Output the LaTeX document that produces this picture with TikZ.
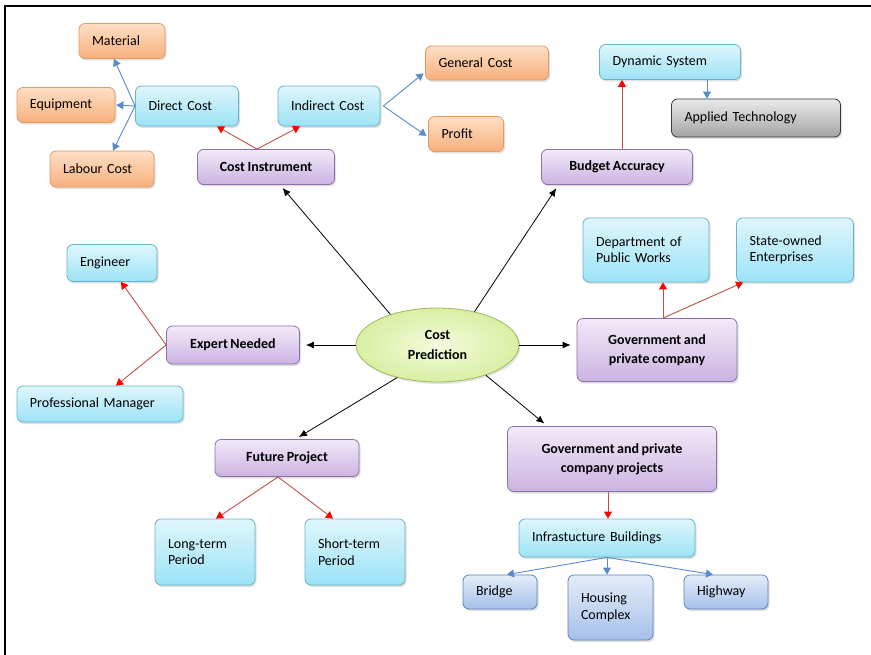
\documentclass[tikz,border=0pt]{standalone}
\usepackage{fontspec}
\setmainfont{Carlito}[WordSpace=0.8]
\usepackage{tikz}
\usetikzlibrary{arrows.meta,shadows,shapes.geometric}
\definecolor{orTop}{HTML}{FDDFC6}
\definecolor{orBot}{HTML}{F8B07C}
\definecolor{orLine}{HTML}{E39A5E}
\definecolor{cyTop}{HTML}{DFF6FC}
\definecolor{cyBot}{HTML}{9CE3F6}
\definecolor{cyLine}{HTML}{6AB3C8}
\definecolor{puTop}{HTML}{F2EAF8}
\definecolor{puBot}{HTML}{CBB3E2}
\definecolor{puLine}{HTML}{8C70A8}
\definecolor{grTop}{HTML}{EAEAEA}
\definecolor{grBot}{HTML}{A4A4A4}
\definecolor{grLine}{HTML}{3A3A3A}
\definecolor{blTop}{HTML}{E4EDF9}
\definecolor{blBot}{HTML}{A6C0EB}
\definecolor{blLine}{HTML}{5E82B8}
\definecolor{elIn}{HTML}{F4FBDC}
\definecolor{elOut}{HTML}{D9EFA4}
\definecolor{elLine}{HTML}{9BBB59}
\definecolor{redLine}{HTML}{C0504D}
\definecolor{blueLine}{HTML}{5A8BCB}
\begin{document}
\begin{tikzpicture}[x=1pt,y=-1pt,
		every node/.style={font=\fontsize{14}{16.5}\selectfont},
		box/.style={rectangle,rounded corners=6pt,draw,line width=0.8pt,inner xsep=13pt,inner ysep=3pt,
			align=left,drop shadow={shadow xshift=1.5pt,shadow yshift=-2pt,opacity=0.25}},
		orbox/.style={box,draw=orLine,top color=orTop,bottom color=orBot},
		cybox/.style={box,draw=cyLine,top color=cyTop,bottom color=cyBot},
		pubox/.style={box,draw=puLine,top color=puTop,bottom color=puBot,align=center,font=\fontsize{14}{19}\selectfont\bfseries},
		grbox/.style={box,draw=grLine,top color=grTop,bottom color=grBot},
		blbox/.style={box,draw=blLine,top color=blTop,bottom color=blBot},
		blk/.style={-{Latex[length=8pt,width=7pt]},line width=0.8pt,shorten >=4pt},
		redarr/.style={-{Triangle[length=7pt,width=8pt,color=red]},draw=redLine,line width=0.9pt},
		bluearr/.style={-{Triangle[length=7pt,width=8pt]},draw=blueLine,line width=0.9pt}
		]
		\fill[white] (0,0) rectangle (871,655);
		\useasboundingbox (0,0) rectangle (871,655);
		\fill[black] (3.5,4.8) rectangle (871,7.2);
		\fill[black] (3.5,4.8) rectangle (5.9,655);

		\node[ellipse,draw=elLine,line width=0.8pt,inner color=elIn,outer color=elOut,minimum width=163,minimum height=74,
			align=center,font=\fontsize{14}{20}\selectfont\bfseries,drop shadow={shadow xshift=1.5pt,shadow yshift=-2pt,opacity=0.2}]
			(CP) at (437.5,345) {Cost\\Prediction};

		\node[pubox,minimum width=137,minimum height=35](CI) at (266,167) {Cost Instrument};
		\node[cybox,minimum width=103,minimum height=40,text width=77](DC) at (187,106) {Direct Cost};
		\node[cybox,minimum width=102,minimum height=40,text width=76](IC) at (329,106) {Indirect Cost};
		\node[orbox,minimum width=86,minimum height=35,text width=60](MA) at (122,41) {Material};
		\node[orbox,minimum width=98,minimum height=35,text width=72](EQ) at (66,105) {Equipment};
		\node[orbox,minimum width=104,minimum height=36,text width=78](LC) at (102,169) {Labour Cost};
		\node[orbox,minimum width=123,minimum height=34,text width=97](GC) at (487,63) {General Cost};
		\node[orbox,minimum width=75,minimum height=35,text width=49](PR) at (466,134) {Profit};

		\node[pubox,minimum width=151,minimum height=35](BA) at (617,167) {Budget Accuracy};
		\node[cybox,minimum width=141,minimum height=35,text width=115](DS) at (670,62) {Dynamic System};
		\node[grbox,minimum width=169,minimum height=38,text width=143](AT) at (756,118) {Applied Technology};

		\node[pubox,minimum width=160,minimum height=63](GP) at (657,350) {Government and\\private company};
		\node[cybox,minimum width=126,minimum height=64,text width=100](DP) at (646,250) {Department of\\Public Works};
		\node[cybox,minimum width=117,minimum height=64,text width=91](SO) at (795,250) {State-owned\\Enterprises};

		\node[pubox,minimum width=133,minimum height=38](EN) at (233,345) {Expert Needed};
		\node[cybox,minimum width=90,minimum height=37,text width=64](EG) at (112,263) {Engineer};
		\node[cybox,minimum width=166,minimum height=36,text width=140](PM) at (100,404) {Professional Manager};

		\node[pubox,minimum width=144,minimum height=37](FP) at (287,458) {Future Project};
		\node[cybox,minimum width=100,minimum height=66,text width=74](LT) at (205,552) {Long-term\\Period};
		\node[cybox,minimum width=100,minimum height=66,text width=74](ST) at (355,552) {Short-term\\Period};

		\node[pubox,minimum width=209,minimum height=65](GJ) at (612,459) {Government and private\\company projects};
		\node[cybox,minimum width=176,minimum height=38,text width=150](IB) at (607,538) {Infrastucture Buildings};
		\node[blbox,minimum width=74,minimum height=34,text width=48](BR) at (500,592) {Bridge};
		\node[blbox,minimum width=85,minimum height=65,text width=59](HC) at (610.5,607.5) {Housing\\Complex};
		\node[blbox,minimum width=84,minimum height=34,text width=58](HW) at (726,592) {Highway};

		\draw[blk] (CP.147) -- (CI.-52);
		\draw[blk] (CP.42) -- (BA.197);
		\draw[blk,shorten >=6pt] (CP.west) -- (CP.west -| EN.east);
		\draw[blk,shorten >=6pt] (CP.east) -- (CP.east -| GP.west);
		\draw[blk] (CP.219) -- (FP.66);
		\draw[blk] (CP.-32) -- (GJ.153);

		\draw[redarr] ([xshift=-9pt]CI.north) -- ([xshift=30pt]DC.south);
		\draw[redarr] ([xshift=-9pt]CI.north) -- ([xshift=-29pt]IC.south);
		\draw[redarr] ([xshift=5pt]BA.north) -- ([xshift=-48pt]DS.south);
		\draw[redarr] ([xshift=6pt]GP.north) -- ([xshift=17pt]DP.south);
		\draw[redarr] ([xshift=6pt]GP.north) -- ([xshift=7pt]SO.south west);
		\draw[redarr] (EN.west) -- ([xshift=9pt]EG.south);
		\draw[redarr] (EN.west) -- ([xshift=16pt]PM.north);
		\draw[redarr] ([xshift=-9pt]FP.south) -- ([xshift=11pt]LT.north);
		\draw[redarr] ([xshift=-9pt]FP.south) -- ([xshift=-22pt]ST.north);
		\draw[redarr] ([xshift=-4pt]GJ.south) -- ([xshift=1pt]IB.north);

		\draw[bluearr] (DC.west) -- ([xshift=-8pt]MA.south);
		\draw[bluearr,shorten >=1pt] (DC.west) -- (EQ.east);
		\draw[bluearr] (DC.west) -- ([xshift=11pt]LC.north);
		\draw[bluearr,shorten >=2pt] ([xshift=3pt]IC.east) -- ([yshift=-9pt]GC.west);
		\draw[bluearr,shorten >=2pt] ([xshift=3pt]IC.east) -- ([yshift=-3pt]PR.west);
		\draw[bluearr] ([xshift=37pt]DS.south) -- ([xshift=-49pt]AT.north);
		\draw[bluearr] (IB.south) -- ([xshift=7pt]BR.north);
		\draw[bluearr] (IB.south) -- ([xshift=-3.5pt]HC.north);
		\draw[bluearr] (IB.south) -- ([xshift=-13pt]HW.north);
	\end{tikzpicture}
\end{document}
